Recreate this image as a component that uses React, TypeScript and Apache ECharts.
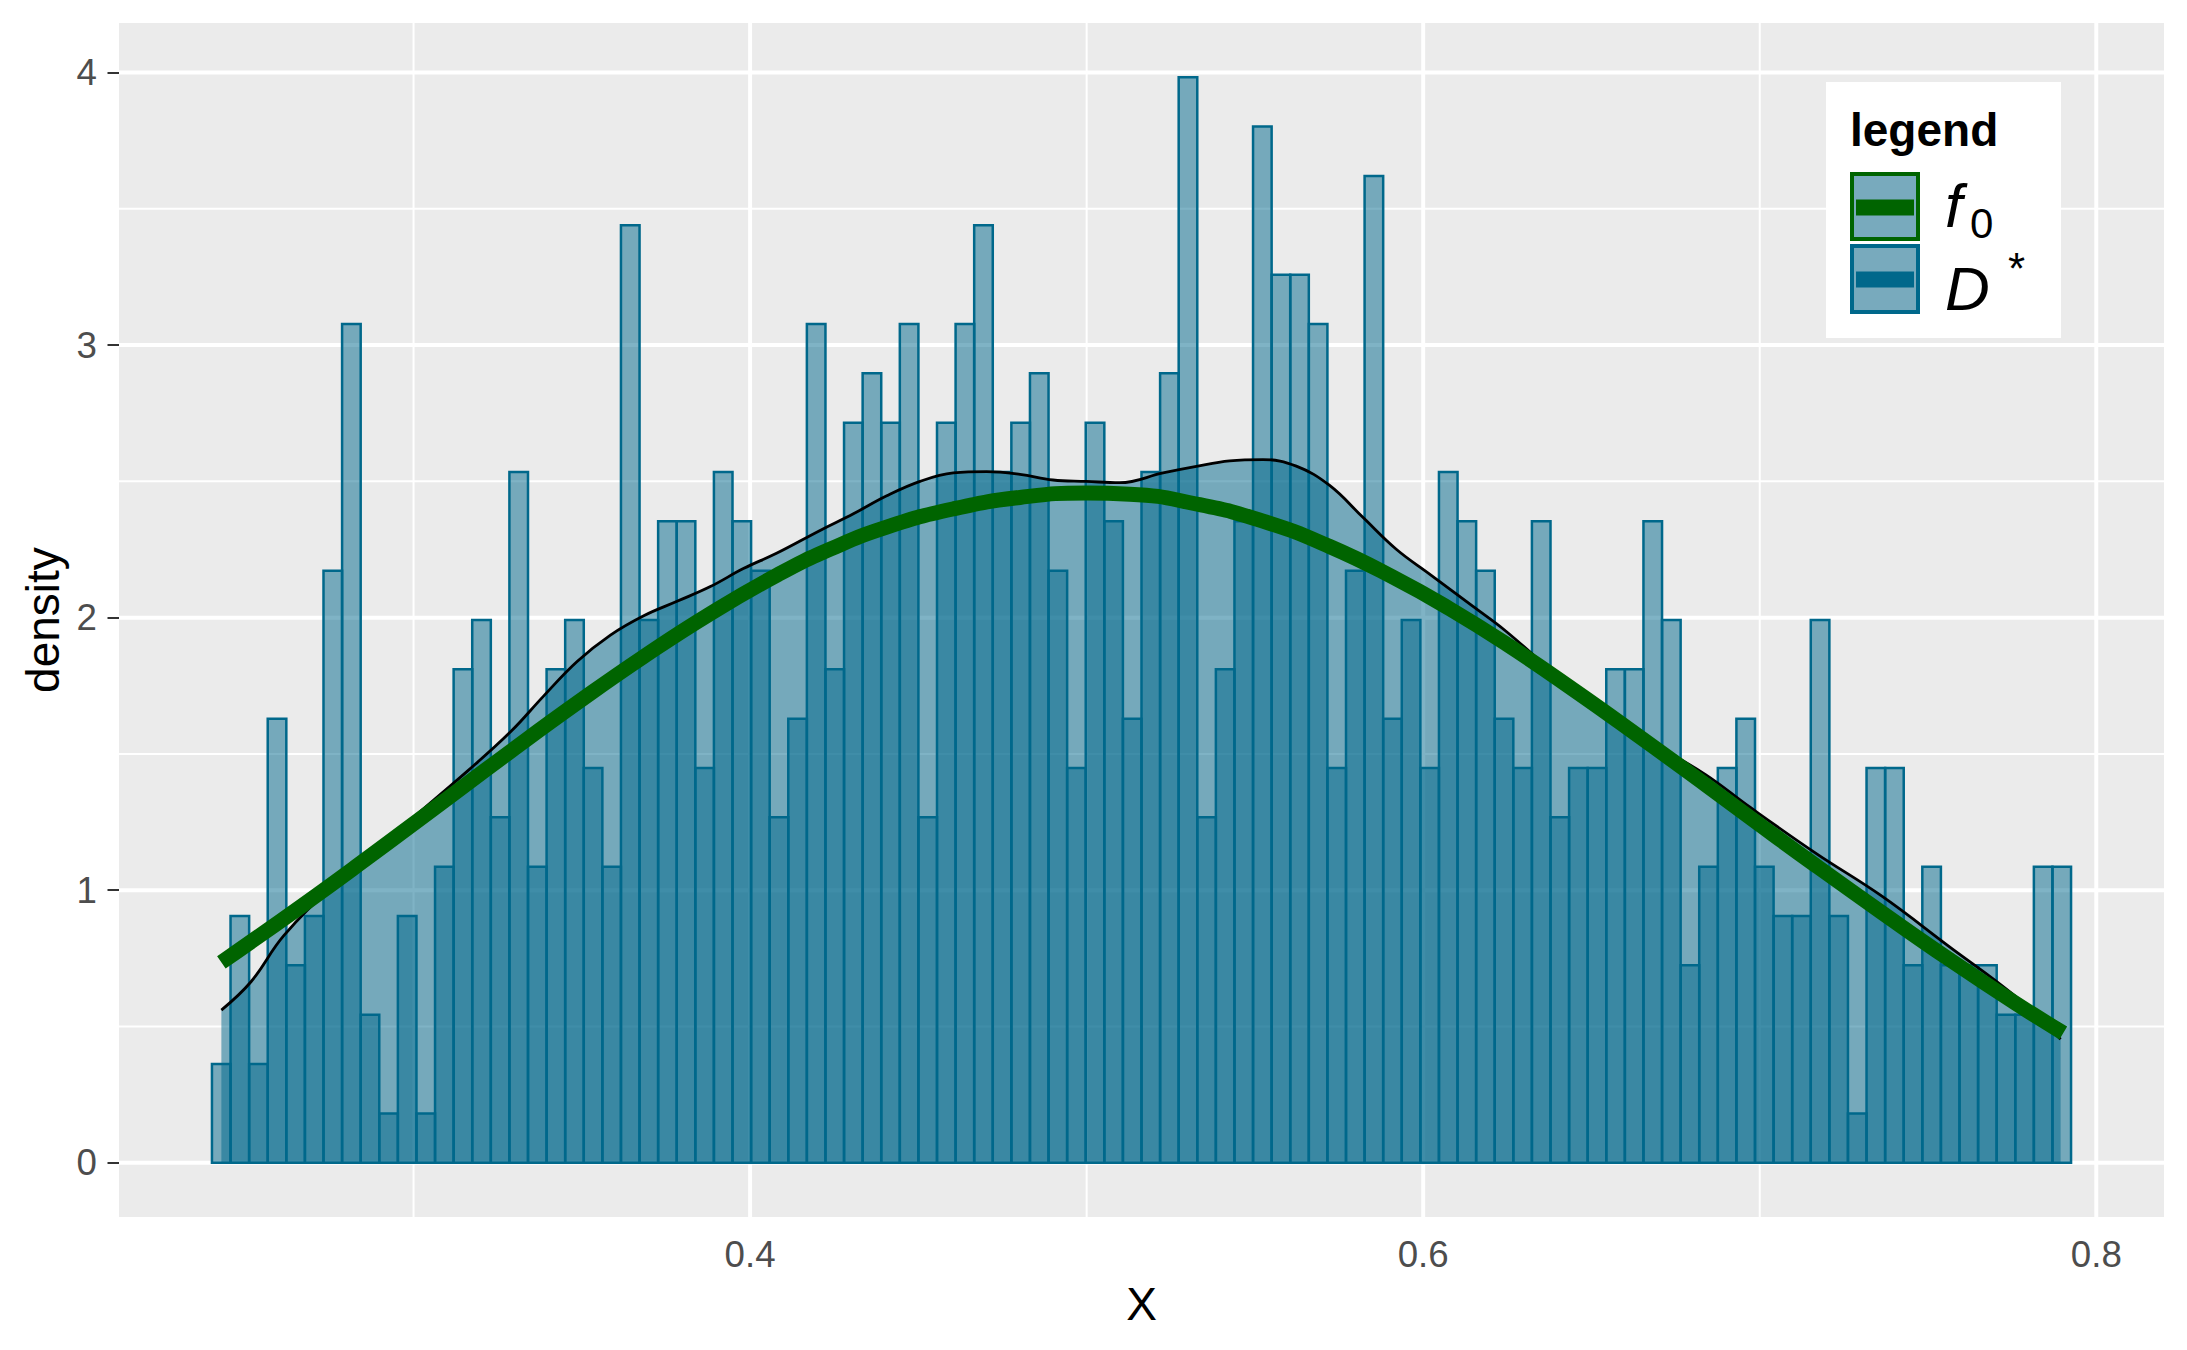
import React, { useEffect, useRef } from "react";
import * as echarts from "echarts";

// ---- data ----
const N_OBS = 1000;
const BIN_START = 0.2401;
const BIN_WIDTH = 0.005524;
const binCounts = [
  2, 5, 2, 9, 4, 5, 12, 17, 3, 1,
  5, 1, 6, 10, 11, 7, 14, 6, 10, 11,
  8, 6, 19, 11, 13, 13, 8, 14, 13, 12,
  7, 9, 17, 10, 15, 16, 15, 17, 7, 15,
  17, 19, 14, 15, 16, 12, 8, 15, 13, 9,
  14, 16, 22, 7, 10, 13, 21, 18, 18, 17,
  8, 12, 20, 9, 11, 8, 14, 13, 12, 9,
  8, 13, 7, 8, 8, 10, 10, 13, 11, 4,
  6, 8, 9, 6, 5, 5, 11, 5, 1, 8,
  8, 4, 6, 4, 4, 4, 3, 3, 6, 6,
];

// kernel density estimate of D* (black outline, filled)
const kdeX = [
  0.2429, 0.2517, 0.2615, 0.2763, 0.2962, 0.316, 0.3289, 0.3387, 0.3486, 0.3585,
  0.3684, 0.3783, 0.3882, 0.398, 0.408, 0.4208, 0.4307, 0.4406, 0.4505, 0.4604,
  0.4703, 0.4802, 0.49, 0.4999, 0.5098, 0.5227, 0.5326, 0.5425, 0.5524, 0.5623,
  0.5722, 0.582, 0.592, 0.6019, 0.6147, 0.6246, 0.6444, 0.6642, 0.6839, 0.6968,
  0.7166, 0.7363, 0.7561, 0.7759, 0.7894,
];
const kdeY = [
  0.56, 0.664, 0.834, 1.018, 1.228, 1.437, 1.582, 1.713, 1.839, 1.936,
  2.007, 2.06, 2.114, 2.18, 2.237, 2.32, 2.381, 2.447, 2.5, 2.531,
  2.536, 2.526, 2.505, 2.5, 2.495, 2.531, 2.555, 2.575, 2.58, 2.556,
  2.485, 2.369, 2.251, 2.16, 2.042, 1.95, 1.74, 1.57, 1.424, 1.307,
  1.136, 0.978, 0.795, 0.611, 0.453,
];

// true density f0 (thick green line)
const f0X = [
  0.2429, 0.2665, 0.2862, 0.306, 0.3289, 0.3486, 0.3684, 0.3882, 0.408, 0.4238,
  0.4406, 0.4604, 0.4802, 0.4999, 0.5128, 0.5326, 0.5524, 0.5722, 0.592, 0.6078,
  0.6246, 0.6444, 0.6642, 0.6839, 0.6998, 0.7166, 0.7363, 0.7561, 0.7759, 0.7902,
];
const f0Y = [
  0.735, 0.94, 1.117, 1.299, 1.51, 1.687, 1.857, 2.015, 2.156, 2.251,
  2.332, 2.399, 2.441, 2.457, 2.453, 2.417, 2.354, 2.261, 2.142, 2.033,
  1.904, 1.738, 1.564, 1.387, 1.242, 1.091, 0.918, 0.748, 0.586, 0.476,
];

const yTickValues = [0, 1, 2, 3, 4];
const yMinorValues = [0.5, 1.5, 2.5, 3.5];
const xTickValues = [0.4, 0.6, 0.8];
const xMinorValues = [0.3, 0.5, 0.7];

const xTitle = "X";
const yTitle = "density";
const legendTitle = "legend";

const FONT = "'Liberation Sans', Arial, Helvetica, sans-serif";
const TEAL = "#00688B";
const TEAL_FILL = "rgba(0,104,139,0.5)";
const GREEN = "#006400";

export default function App() {
  const ref = useRef<HTMLDivElement>(null);

  useEffect(() => {
    if (!ref.current) return;
    const chart = echarts.init(ref.current, null, { renderer: "svg" });

    const histData = binCounts.map((c, i) => [
      BIN_START + i * BIN_WIDTH,
      BIN_START + (i + 1) * BIN_WIDTH,
      c / (N_OBS * BIN_WIDTH),
    ]);
    const xLo = BIN_START;
    const xHi = BIN_START + binCounts.length * BIN_WIDTH;
    const xPad = 0.05 * (xHi - xLo);
    const xMin = xLo - xPad;
    const xMax = xHi + xPad;
    const yTop = Math.max(...histData.map((d) => d[2]));
    const yMin = -0.05 * yTop;
    const yMax = yTop * 1.05;

    const gridData = [
      ...yTickValues.map((v) => [v, 0, 1]),
      ...yMinorValues.map((v) => [v, 0, 0]),
      ...xTickValues.map((v) => [v, 1, 1]),
      ...xMinorValues.map((v) => [v, 1, 0]),
    ];

    const option: any = {
      animation: false,
      backgroundColor: "#ffffff",
      grid: {
        left: 119,
        right: 23,
        top: 23,
        bottom: 133,
        show: true,
        backgroundColor: "#EBEBEB",
        borderWidth: 0,
      },
      xAxis: {
        type: "value",
        min: xMin,
        max: xMax,
        name: xTitle,
        nameLocation: "middle",
        nameGap: 64,
        nameTextStyle: { fontSize: 46, color: "#000", fontFamily: FONT },
        axisLine: { show: false },
        splitLine: { show: false },
        axisTick: {
          show: true,
          length: 11.5,
          customValues: xTickValues,
          lineStyle: { color: "#333333", width: 2 },
        },
        axisLabel: {
          customValues: xTickValues,
          margin: 19,
          fontSize: 36.7,
          color: "#4D4D4D",
          fontFamily: FONT,
          formatter: (v: number) => String(v),
        },
      },
      yAxis: {
        type: "value",
        min: yMin,
        max: yMax,
        name: yTitle,
        nameLocation: "middle",
        nameGap: 49,
        nameTextStyle: { fontSize: 46, color: "#000", fontFamily: FONT },
        axisLine: { show: false },
        splitLine: { show: false },
        axisTick: {
          show: true,
          length: 11.5,
          customValues: yTickValues,
          lineStyle: { color: "#333333", width: 2 },
        },
        axisLabel: {
          customValues: yTickValues,
          margin: 22,
          fontSize: 36.7,
          color: "#4D4D4D",
          fontFamily: FONT,
          formatter: (v: number) => String(v),
        },
      },
      series: [
        {
          type: "custom",
          z: 1,
          silent: true,
          clip: false,
          data: gridData,
          encode: { x: 0, y: 0 },
          renderItem: (params: any, api: any) => {
            const cs = params.coordSys;
            const v = api.value(0);
            const orient = api.value(1);
            const major = api.value(2);
            const lw = major ? 4 : 2;
            if (orient === 0) {
              const y = api.coord([xMin, v])[1];
              return {
                type: "line",
                shape: { x1: cs.x, y1: y, x2: cs.x + cs.width, y2: y },
                style: { stroke: "#ffffff", lineWidth: lw },
              };
            }
            const x = api.coord([v, yMin])[0];
            return {
              type: "line",
              shape: { x1: x, y1: cs.y, x2: x, y2: cs.y + cs.height },
              style: { stroke: "#ffffff", lineWidth: lw },
            };
          },
        },
        {
          type: "custom",
          z: 2,
          silent: true,
          data: histData,
          encode: { x: [0, 1], y: 2 },
          renderItem: (_params: any, api: any) => {
            const p0 = api.coord([api.value(0), 0]);
            const p1 = api.coord([api.value(1), api.value(2)]);
            return {
              type: "rect",
              shape: {
                x: p0[0],
                y: p1[1],
                width: p1[0] - p0[0],
                height: p0[1] - p1[1],
              },
              style: { fill: TEAL_FILL, stroke: TEAL, lineWidth: 2.5 },
            };
          },
        },
        {
          type: "line",
          z: 3,
          silent: true,
          data: kdeX.map((x, i) => [x, kdeY[i]]),
          showSymbol: false,
          smooth: 0.4,
          lineStyle: { color: "#000000", width: 2.8 },
          areaStyle: { color: TEAL_FILL, origin: 0, opacity: 1 },
        },
        {
          type: "line",
          z: 4,
          silent: true,
          data: f0X.map((x, i) => [x, f0Y[i]]),
          showSymbol: false,
          smooth: 0.5,
          lineStyle: { color: GREEN, width: 15, cap: "butt" },
        },
      ],
      graphic: [
        {
          type: "rect",
          z: 10,
          shape: { x: 1826, y: 82, width: 235, height: 256 },
          style: { fill: "#ffffff" },
        },
        {
          type: "text",
          z: 11,
          x: 1850,
          y: 130,
          style: {
            text: legendTitle,
            fontSize: 46,
            fontWeight: "bold",
            fontFamily: FONT,
            fill: "#000",
            align: "left",
            verticalAlign: "middle",
          },
        },
        {
          type: "rect",
          z: 11,
          shape: { x: 1852, y: 174, width: 66, height: 65 },
          style: { fill: "#78AABD", stroke: GREEN, lineWidth: 4 },
        },
        {
          type: "line",
          z: 12,
          shape: { x1: 1856, y1: 207.5, x2: 1914, y2: 207.5 },
          style: { stroke: GREEN, lineWidth: 16 },
        },
        {
          type: "rect",
          z: 11,
          shape: { x: 1852, y: 246, width: 66, height: 66 },
          style: { fill: "#78AABD", stroke: TEAL, lineWidth: 4 },
        },
        {
          type: "line",
          z: 12,
          shape: { x1: 1856, y1: 279.5, x2: 1914, y2: 279.5 },
          style: { stroke: TEAL, lineWidth: 16 },
        },
        {
          type: "text",
          z: 11,
          x: 1945,
          y: 205,
          style: {
            text: "f",
            fontSize: 62,
            fontStyle: "italic",
            fontFamily: FONT,
            fill: "#000",
            align: "left",
            verticalAlign: "middle",
          },
        },
        {
          type: "text",
          z: 11,
          x: 1970,
          y: 223,
          style: {
            text: "0",
            fontSize: 42,
            fontFamily: FONT,
            fill: "#000",
            align: "left",
            verticalAlign: "middle",
          },
        },
        {
          type: "text",
          z: 11,
          x: 1945,
          y: 288,
          style: {
            text: "D",
            fontSize: 62,
            fontStyle: "italic",
            fontFamily: FONT,
            fill: "#000",
            align: "left",
            verticalAlign: "middle",
          },
        },
        {
          type: "text",
          z: 11,
          x: 2008,
          y: 268,
          style: {
            text: "*",
            fontSize: 44,
            fontFamily: FONT,
            fill: "#000",
            align: "left",
            verticalAlign: "middle",
          },
        },
      ],
    };

    chart.setOption(option);
    return () => chart.dispose();
  }, []);

  return (
    <div
      ref={ref}
      style={{ position: "absolute", left: 0, top: 0, width: 2187, height: 1350 }}
    />
  );
}
